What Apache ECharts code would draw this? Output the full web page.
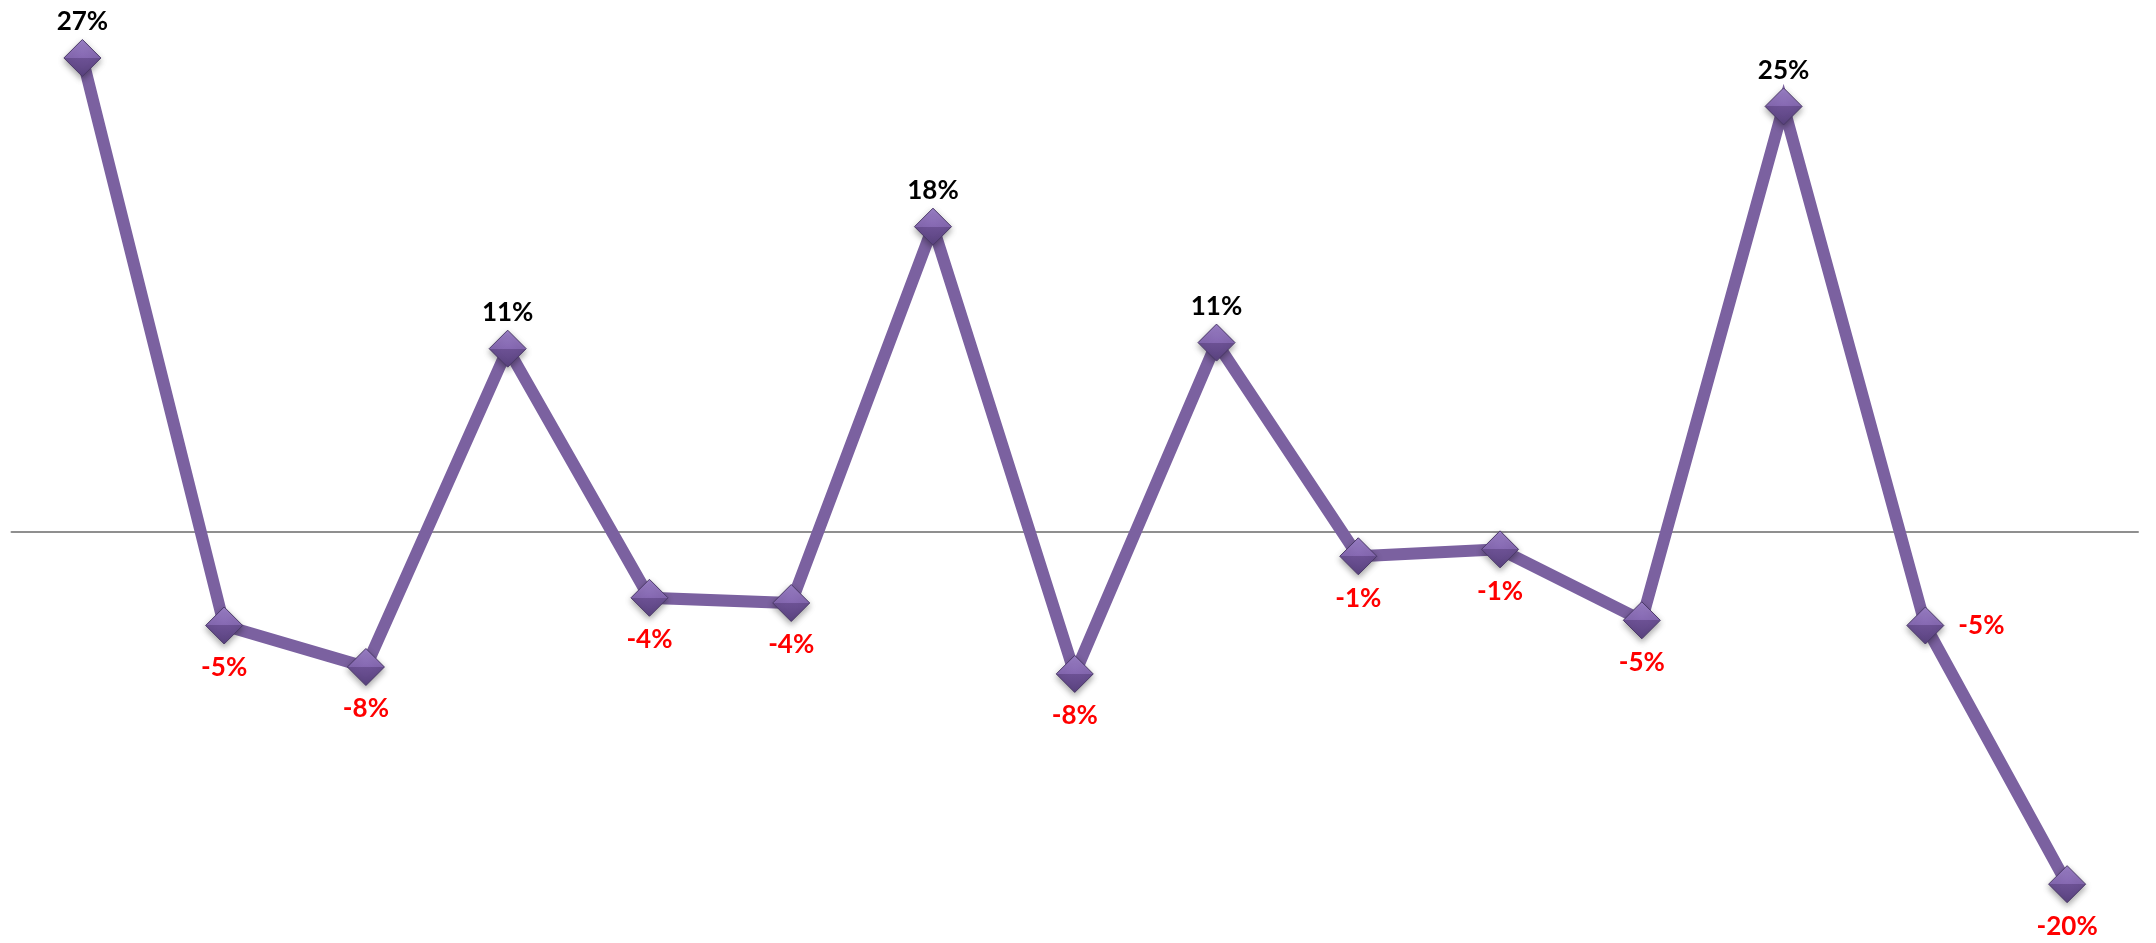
<!DOCTYPE html>
<html>
<head>
<meta charset="utf-8">
<script src="https://cdn.jsdelivr.net/npm/echarts@6/dist/echarts.min.js"></script>
<style>
  html, body { margin: 0; padding: 0; background: #fff; }
  #chart { width: 2156px; height: 943px; }
</style>
</head>
<body>
<div id="chart"></div>
<script>
const categories = ['1','2','3','4','5','6','7','8','9','10','11','12','13','14','15'];
const changePct = [27.4, -5.4, -7.8, 10.6, -3.8, -4.1, 17.65, -8.2, 10.95, -1.4, -1.0, -5.1, 24.6, -5.4, -20.35];

const chart = echarts.init(document.getElementById('chart'), null, { renderer: 'canvas' });

const diamondFill = new echarts.graphic.LinearGradient(0, 0, 0, 1, [
  { offset: 0, color: '#9d82c9' },
  { offset: 0.5, color: '#8568b1' },
  { offset: 0.5, color: '#6c5194' },
  { offset: 1, color: '#5a4380' }
]);

const seriesData = changePct.map((v, i) => {
  const neg = v < 0;
  let position = neg ? 'bottom' : 'top';
  let distance = neg ? 10 : 4;
  if (i === 13) { position = 'right'; distance = 14; }
  return {
    value: v,
    label: {
      position: position,
      distance: distance,
      color: neg ? '#ff0000' : '#000000'
    }
  };
});

chart.setOption({
  animation: false,
  backgroundColor: '#ffffff',
  grid: { left: 11.5, right: 18, top: 13, bottom: 13, containLabel: false },
  xAxis: {
    type: 'category',
    data: categories,
    boundaryGap: true,
    axisLine: { show: true, onZero: true, lineStyle: { color: '#8f8f8f', width: 2 } },
    axisTick: { show: false },
    axisLabel: { show: false },
    splitLine: { show: false }
  },
  yAxis: {
    type: 'value',
    min: -23,
    max: 30,
    axisLine: { show: false },
    axisTick: { show: false },
    axisLabel: { show: false },
    splitLine: { show: false }
  },
  series: [{
    type: 'line',
    data: seriesData,
    symbol: 'diamond',
    symbolSize: 37,
    lineStyle: { color: '#7b61a0', width: 12, join: 'miter' },
    itemStyle: {
      color: diamondFill,
      borderColor: '#4a3868',
      borderWidth: 1,
      shadowColor: 'rgba(0,0,0,0.35)',
      shadowBlur: 6,
      shadowOffsetY: 3
    },
    label: {
      show: true,
      fontFamily: 'Lato',
      fontWeight: 'bold',
      fontSize: 26,
      formatter: p => Math.round(p.value) + '%'
    },
    z: 2
  }]
});
</script>
</body>
</html>
